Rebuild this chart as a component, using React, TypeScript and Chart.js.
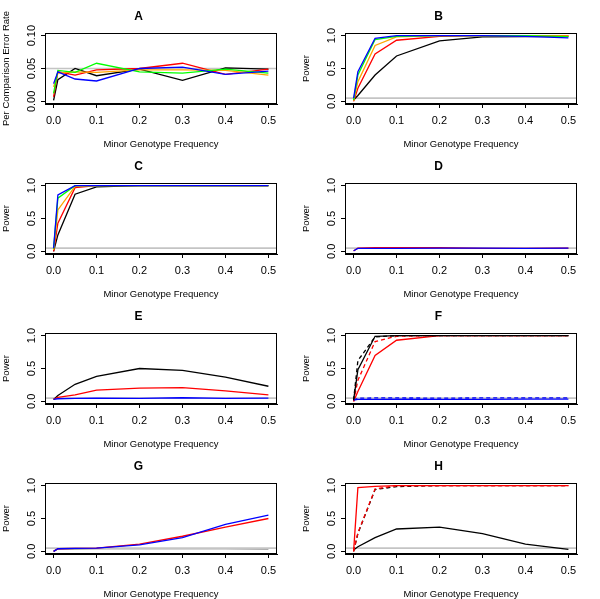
import React, { useEffect, useRef } from "react";
import { Chart, registerables } from "chart.js";

Chart.register(...registerables);

// ---------- data ----------
const mgf = [0, 0.01, 0.05, 0.1, 0.2, 0.3, 0.4, 0.5];
const xTickValues = [0, 0.1, 0.2, 0.3, 0.4, 0.5];
const powerTicks = [0, 0.5, 1];
const errorTicks = [0, 0.05, 0.1];
const alphaLevel = 0.05;
const xLabel = "Minor Genotype Frequency";
const yLabelError = "Per Comparison Error Rate";
const yLabelPower = "Power";
const panelTitles = ["A", "B", "C", "D", "E", "F", "G", "H"];

// Panel A (error rate)
const aBlack = [0.0015, 0.033, 0.05, 0.039, 0.049, 0.032, 0.051, 0.049];
const aRed = [0.007, 0.045, 0.04, 0.048, 0.05, 0.058, 0.041, 0.049];
const aOrange = [0.022, 0.043, 0.045, 0.044, 0.048, 0.048, 0.047, 0.04];
const aGreen = [0.012, 0.047, 0.044, 0.058, 0.045, 0.043, 0.049, 0.043];
const aBlue = [0.027, 0.045, 0.034, 0.031, 0.05, 0.052, 0.041, 0.046];

// Panel B
const bBlack = [0.02, 0.09, 0.4, 0.69, 0.92, 0.98, 0.985, 0.99];
const bRed = [0.0, 0.2, 0.72, 0.93, 0.99, 1.0, 1.0, 1.0];
const bOrange = [0.01, 0.3, 0.85, 0.98, 1.0, 1.0, 1.0, 0.995];
const bGreen = [0.02, 0.4, 0.94, 0.99, 1.0, 1.0, 1.0, 0.985];
const bBlue = [0.05, 0.45, 0.96, 1.0, 1.0, 1.0, 0.99, 0.965];

// Panel C
const cBlack = [0.0, 0.25, 0.87, 0.98, 1.0, 1.0, 1.0, 1.0];
const cRed = [0.0, 0.43, 0.97, 1.0, 1.0, 1.0, 1.0, 1.0];
const cOrange = [0.02, 0.63, 0.99, 1.0, 1.0, 1.0, 1.0, 1.0];
const cGreen = [0.04, 0.81, 1.0, 1.0, 1.0, 1.0, 1.0, 1.0];
const cBlue = [0.05, 0.86, 1.0, 1.0, 1.0, 1.0, 1.0, 1.0];

// Panel D
const dRed = [0.005, 0.05, 0.055, 0.055, 0.055, 0.045, 0.045, 0.05];
const dBlue = [0.01, 0.045, 0.045, 0.045, 0.05, 0.05, 0.045, 0.05];

// Panel E
const eBlack = [0.03, 0.09, 0.26, 0.38, 0.5, 0.47, 0.37, 0.23];
const eRed = [0.03, 0.06, 0.1, 0.17, 0.2, 0.21, 0.16, 0.1];
const eBlue = [0.03, 0.04, 0.045, 0.05, 0.045, 0.055, 0.045, 0.05];

// Panel F
const fBlackSolid = [0.02, 0.48, 0.99, 1.0, 1.0, 1.0, 1.0, 1.0];
const fBlackDashed = [0.02, 0.62, 0.98, 1.0, 1.0, 1.0, 1.0, 1.0];
const fRedSolid = [0.0, 0.15, 0.7, 0.93, 1.0, 1.0, 1.0, 1.0];
const fRedDashed = [0.0, 0.32, 0.91, 0.99, 1.0, 1.0, 1.0, 1.0];
const fBlueSolid = [0.02, 0.03, 0.03, 0.035, 0.03, 0.03, 0.035, 0.035];
const fBlueDashed = [0.02, 0.048, 0.052, 0.052, 0.05, 0.052, 0.052, 0.052];

// Panel G
const gBlack = [0.0, 0.04, 0.04, 0.043, 0.043, 0.043, 0.043, 0.04];
const gRed = [0.0, 0.04, 0.045, 0.05, 0.11, 0.23, 0.37, 0.5];
const gBlue = [0.0, 0.04, 0.045, 0.05, 0.1, 0.21, 0.41, 0.55];

// Panel H
const hBlackSolid = [0.02, 0.07, 0.21, 0.34, 0.37, 0.27, 0.11, 0.03];
const hBlackDashed = [0.0, 0.27, 0.94, 0.985, 1.0, 1.0, 1.0, 1.0];
const hRedSolid = [0.0, 0.97, 0.99, 1.0, 1.0, 1.0, 1.0, 1.0];
const hRedDashed = [0.0, 0.28, 0.95, 1.0, 1.0, 1.0, 1.0, 1.0];

// ---------- styling ----------
const BLACK = "#000000";
const RED = "#ff0000";
const ORANGE = "#ffa500";
const GREEN = "#00ff00";
const BLUE = "#0000ff";
const REF_GRAY = "#c4c4c4";
const FONT = "'Liberation Sans', Arial, Helvetica, sans-serif";
const DASH = [4, 3];

type Series = { values: number[]; color: string; dashed?: boolean; under?: boolean };
type Panel = {
  title: string;
  yLabel: string;
  yTicks: number[];
  yDecimals: number;
  series: Series[];
};

const panels: Panel[] = [
  {
    title: panelTitles[0], yLabel: yLabelError, yTicks: errorTicks, yDecimals: 2,
    series: [
      { values: aBlack, color: BLACK }, { values: aRed, color: RED },
      { values: aOrange, color: ORANGE }, { values: aGreen, color: GREEN },
      { values: aBlue, color: BLUE },
    ],
  },
  {
    title: panelTitles[1], yLabel: yLabelPower, yTicks: powerTicks, yDecimals: 1,
    series: [
      { values: bBlack, color: BLACK }, { values: bRed, color: RED },
      { values: bOrange, color: ORANGE }, { values: bGreen, color: GREEN },
      { values: bBlue, color: BLUE },
    ],
  },
  {
    title: panelTitles[2], yLabel: yLabelPower, yTicks: powerTicks, yDecimals: 1,
    series: [
      { values: cBlack, color: BLACK }, { values: cRed, color: RED },
      { values: cOrange, color: ORANGE }, { values: cGreen, color: GREEN },
      { values: cBlue, color: BLUE },
    ],
  },
  {
    title: panelTitles[3], yLabel: yLabelPower, yTicks: powerTicks, yDecimals: 1,
    series: [{ values: dRed, color: RED }, { values: dBlue, color: BLUE }],
  },
  {
    title: panelTitles[4], yLabel: yLabelPower, yTicks: powerTicks, yDecimals: 1,
    series: [
      { values: eBlack, color: BLACK }, { values: eRed, color: RED },
      { values: eBlue, color: BLUE },
    ],
  },
  {
    title: panelTitles[5], yLabel: yLabelPower, yTicks: powerTicks, yDecimals: 1,
    series: [
      { values: fRedSolid, color: RED }, { values: fBlueSolid, color: BLUE },
      { values: fRedDashed, color: RED, dashed: true },
      { values: fBlackDashed, color: BLACK, dashed: true },
      { values: fBlueDashed, color: BLUE, dashed: true },
      { values: fBlackSolid, color: BLACK },
    ],
  },
  {
    title: panelTitles[6], yLabel: yLabelPower, yTicks: powerTicks, yDecimals: 1,
    series: [
      { values: gBlack, color: BLACK, under: true }, { values: gRed, color: RED },
      { values: gBlue, color: BLUE },
    ],
  },
  {
    title: panelTitles[7], yLabel: yLabelPower, yTicks: powerTicks, yDecimals: 1,
    series: [
      { values: hBlackSolid, color: BLACK },
      { values: hBlackDashed, color: BLACK, dashed: true },
      { values: hRedDashed, color: RED, dashed: true },
      { values: hRedSolid, color: RED },
    ],
  },
];

const boxPlugin = {
  id: "rbox",
  afterDraw(chart: any) {
    const { ctx, chartArea } = chart;
    const l = Math.round(chartArea.left) + 0.5;
    const t = Math.round(chartArea.top) + 0.5;
    const r = Math.round(chartArea.right) - 0.5;
    const b = Math.round(chartArea.bottom) - 0.5;
    ctx.save();
    ctx.strokeStyle = "#000";
    ctx.lineWidth = 1;
    ctx.strokeRect(l, t, r - l, b - t);
    ctx.restore();
  },
};

function PanelChart({ panel }: { panel: Panel }) {
  const ref = useRef<HTMLCanvasElement | null>(null);
  useEffect(() => {
    if (!ref.current) return;
    const yLo = panel.yTicks[0];
    const yHi = panel.yTicks[panel.yTicks.length - 1];
    const yPad = (yHi - yLo) * 0.04;
    const xLo = xTickValues[0];
    const xHi = xTickValues[xTickValues.length - 1];
    const xPad = (xHi - xLo) * 0.04;
    const n = panel.series.length;
    const datasets: any[] = panel.series.map((s, i) => ({
      data: mgf.map((x, j) => ({ x, y: s.values[j] })),
      borderColor: s.under ? "#555555" : s.color,
      backgroundColor: s.color,
      borderWidth: 1.3,
      borderDash: s.dashed ? DASH : [],
      pointRadius: 0,
      tension: 0,
      fill: false,
      order: s.under ? 2000 : n - i,
    }));
    datasets.push({
      data: [
        { x: xLo - xPad, y: alphaLevel },
        { x: xHi + xPad, y: alphaLevel },
      ],
      borderColor: REF_GRAY,
      borderWidth: 1.6,
      pointRadius: 0,
      fill: false,
      order: 1000,
    });
    const TICK_SIZE = 11;
    const tickFont = { family: FONT, size: TICK_SIZE, lineHeight: 1.2 };
    const labelFont = { family: FONT, size: 9.5, lineHeight: 1.2 };
    const yLabelWidest = (panel.yDecimals === 2 ? 1.946 : 1.39) * TICK_SIZE / 2;
    const chart = new Chart(ref.current, {
      type: "line",
      data: { datasets },
      plugins: [boxPlugin],
      options: {
        responsive: false,
        animation: false,
        devicePixelRatio: 1,
        layout: { padding: { top: 0, right: 23, bottom: 0, left: 0 } },
        plugins: {
          legend: { display: false },
          tooltip: { enabled: false },
          title: {
            display: true,
            text: panel.title,
            color: "#000",
            font: { family: FONT, size: 12, weight: "bold", lineHeight: 1.2 },
            padding: { top: 9.5, bottom: 9.1 },
          },
        },
        scales: {
          x: {
            type: "linear",
            min: xLo - xPad,
            max: xHi + xPad,
            afterBuildTicks: (s: any) => {
              s.ticks = xTickValues.map((v) => ({ value: v }));
            },
            afterFit: (s: any) => {
              s.height = 46;
            },
            grid: { drawOnChartArea: false, drawTicks: true, tickLength: 4, color: "#000", lineWidth: 1 },
            border: { display: true, color: "#000", width: 1 },
            ticks: {
              autoSkip: false,
              maxRotation: 0,
              minRotation: 0,
              padding: 6.4,
              color: "#000",
              font: tickFont,
              callback: (v: any) => Number(v).toFixed(1),
            },
            title: {
              display: true,
              text: xLabel,
              color: "#000",
              font: labelFont,
              padding: { top: 0, bottom: 0 },
            },
          },
          y: {
            type: "linear",
            min: yLo - yPad,
            max: yHi + yPad,
            afterBuildTicks: (s: any) => {
              s.ticks = panel.yTicks.map((v) => ({ value: v }));
            },
            afterFit: (s: any) => {
              s.width = 45;
            },
            grid: { drawOnChartArea: false, drawTicks: true, tickLength: 4, color: "#000", lineWidth: 1 },
            border: { display: true, color: "#000", width: 1 },
            ticks: {
              autoSkip: false,
              minRotation: 90,
              maxRotation: 90,
              crossAlign: "center",
              padding: 45 - 4 - yLabelWidest - 32.3,
              color: "#000",
              font: tickFont,
              callback: (v: any) => Number(v).toFixed(panel.yDecimals),
            },
            title: {
              display: true,
              text: panel.yLabel,
              color: "#000",
              font: labelFont,
              padding: { top: 1, bottom: 0 },
            },
          },
        },
      } as any,
    });
    return () => chart.destroy();
  }, [panel]);
  return (
    <div style={{ width: 300, height: 150, overflow: "hidden" }}>
      <canvas ref={ref} width={300} height={150} style={{ display: "block", width: 300, height: 150 }} />
    </div>
  );
}

export default function App() {
  return (
    <div
      style={{
        position: "fixed",
        top: 0,
        left: 0,
        width: 600,
        height: 599,
        overflow: "hidden",
        background: "#fff",
        display: "grid",
        gridTemplateColumns: "300px 300px",
        gridAutoRows: "150px",
      }}
    >
      {panels.map((p) => (
        <PanelChart key={p.title} panel={p} />
      ))}
    </div>
  );
}
